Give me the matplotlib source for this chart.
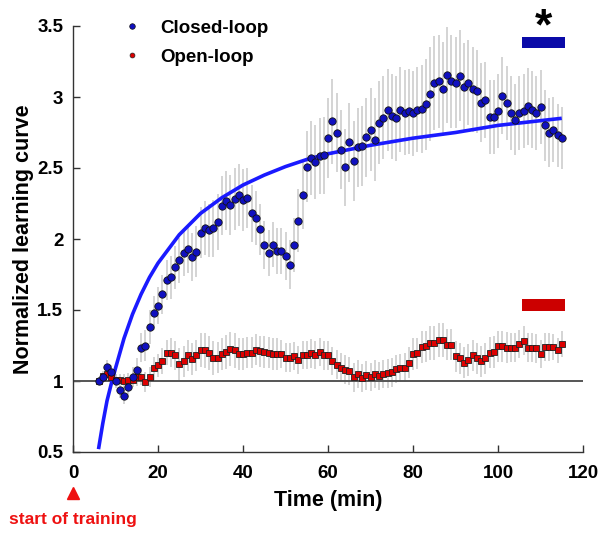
import matplotlib
matplotlib.use('Agg')
import matplotlib.pyplot as plt
from matplotlib.ticker import FuncFormatter
from matplotlib.lines import Line2D

plt.rcParams['font.family'] = ['Liberation Sans', 'DejaVu Sans']
plt.rcParams['font.weight'] = 'bold'

# ---------------- data ----------------
time = list(range(6, 116))

closed = [1.00, 1.03, 1.10, 1.065, 1.00, 0.94, 0.895, 0.96, 1.03, 1.08,
          1.235, 1.25, 1.38, 1.48, 1.53, 1.61, 1.71, 1.73, 1.80, 1.85,
          1.90, 1.93, 1.875, 1.91, 2.045, 2.08, 2.06, 2.075, 2.12, 2.235,
          2.27, 2.24, 2.28, 2.31, 2.275, 2.29, 2.18, 2.15, 2.07, 1.96,
          1.90, 1.96, 1.915, 1.915, 1.88, 1.82, 1.96, 2.13, 2.31, 2.51,
          2.57, 2.54, 2.585, 2.59, 2.71, 2.83, 2.75, 2.63, 2.505, 2.68,
          2.55, 2.645, 2.655, 2.715, 2.77, 2.70, 2.82, 2.855, 2.91, 2.865,
          2.85, 2.91, 2.89, 2.90, 2.885, 2.91, 2.915, 2.95, 3.02, 3.10,
          3.11, 3.055, 3.155, 3.11, 3.10, 3.15, 3.07, 3.10, 3.055, 3.04,
          2.96, 2.98, 2.86, 2.86, 2.90, 3.01, 2.96, 2.89, 2.84, 2.89,
          2.90, 2.935, 2.91, 2.885, 2.93, 2.80, 2.75, 2.77, 2.73, 2.71]

closed_err = [0.03, 0.04, 0.05, 0.05, 0.05, 0.06, 0.06, 0.07, 0.07, 0.08,
              0.10, 0.11, 0.12, 0.12, 0.13, 0.14, 0.14, 0.15, 0.15, 0.16,
              0.16, 0.17, 0.17, 0.18, 0.18, 0.19, 0.19, 0.20, 0.20, 0.21,
              0.21, 0.21, 0.22, 0.22, 0.22, 0.21, 0.20, 0.19, 0.18, 0.17,
              0.16, 0.16, 0.16, 0.16, 0.17, 0.17, 0.19, 0.22, 0.24, 0.25,
              0.26, 0.26, 0.27, 0.27, 0.28, 0.30, 0.28, 0.28, 0.27, 0.28,
              0.28, 0.28, 0.28, 0.28, 0.29, 0.29, 0.29, 0.29, 0.29, 0.30,
              0.30, 0.30, 0.30, 0.30, 0.30, 0.30, 0.31, 0.32, 0.33, 0.33,
              0.33, 0.33, 0.34, 0.33, 0.32, 0.32, 0.31, 0.30, 0.30, 0.29,
              0.28, 0.27, 0.26, 0.26, 0.26, 0.27, 0.26, 0.26, 0.25, 0.26,
              0.26, 0.27, 0.27, 0.26, 0.26, 0.25, 0.24, 0.23, 0.22, 0.22]

open_loop = [1.00, 1.035, 1.05, 1.026, 1.007, 1.01, 1.00, 1.007, 1.01, 1.026,
             1.03, 0.99, 1.03, 1.09, 1.11, 1.14, 1.20, 1.20, 1.18, 1.12,
             1.14, 1.18, 1.155, 1.18, 1.22, 1.215, 1.195, 1.16, 1.165, 1.19,
             1.205, 1.225, 1.215, 1.19, 1.19, 1.20, 1.20, 1.22, 1.21, 1.205,
             1.20, 1.19, 1.19, 1.19, 1.165, 1.165, 1.175, 1.15, 1.185, 1.185,
             1.195, 1.185, 1.205, 1.18, 1.18, 1.14, 1.115, 1.095, 1.08, 1.07,
             1.026, 1.05, 1.02, 1.04, 1.03, 1.05, 1.035, 1.05, 1.054, 1.06,
             1.085, 1.09, 1.095, 1.13, 1.19, 1.195, 1.24, 1.245, 1.265, 1.27,
             1.29, 1.29, 1.255, 1.255, 1.175, 1.16, 1.13, 1.148, 1.18, 1.16,
             1.14, 1.16, 1.20, 1.205, 1.245, 1.245, 1.235, 1.235, 1.235, 1.26,
             1.285, 1.235, 1.235, 1.23, 1.19, 1.24, 1.24, 1.24, 1.215, 1.26]

open_err = [0.02, 0.03, 0.03, 0.04, 0.04, 0.04, 0.05, 0.05, 0.05, 0.06,
            0.06, 0.07, 0.07, 0.08, 0.08, 0.09, 0.09, 0.10, 0.10, 0.11,
            0.11, 0.11, 0.11, 0.11, 0.12, 0.12, 0.12, 0.12, 0.11, 0.11,
            0.12, 0.12, 0.12, 0.11, 0.11, 0.11, 0.11, 0.11, 0.11, 0.11,
            0.11, 0.11, 0.11, 0.10, 0.10, 0.10, 0.10, 0.10, 0.10, 0.10,
            0.10, 0.10, 0.10, 0.10, 0.10, 0.10, 0.10, 0.10, 0.10, 0.10,
            0.10, 0.10, 0.10, 0.10, 0.10, 0.10, 0.10, 0.10, 0.10, 0.10,
            0.10, 0.10, 0.10, 0.11, 0.11, 0.11, 0.11, 0.11, 0.12, 0.12,
            0.12, 0.12, 0.11, 0.11, 0.11, 0.11, 0.11, 0.11, 0.11, 0.11,
            0.11, 0.11, 0.11, 0.11, 0.11, 0.11, 0.11, 0.10, 0.10, 0.10,
            0.10, 0.10, 0.10, 0.10, 0.10, 0.10, 0.10, 0.09, 0.09, 0.09]

# fitted learning curve
fit_t = [6, 7, 8, 9, 10, 12, 14, 16, 18, 20, 25, 30, 35, 40, 45, 50, 55, 60, 70, 80, 90, 100, 115]
fit_v = [0.52, 0.70, 0.86, 0.98, 1.09, 1.30, 1.47, 1.61, 1.73, 1.83, 2.03, 2.18, 2.29, 2.38,
         2.45, 2.51, 2.56, 2.60, 2.66, 2.71, 2.75, 2.80, 2.85]

# significance bars
sig_span = [105.7, 115.7]
closed_bar_y = [3.343, 3.425]
open_bar_y = [1.493, 1.575]
star_pos = [110.7, 3.49]

xticks = [0, 20, 40, 60, 80, 100, 120]
yticks = [0.5, 1, 1.5, 2, 2.5, 3, 3.5]

# ---------------- figure ----------------
fig = plt.figure(figsize=(6.04, 5.35), dpi=100)
ax = fig.add_axes([73 / 604, 1 - 452 / 535, 510 / 604, 426 / 535])

ax.errorbar(time, closed, yerr=closed_err, fmt='none', ecolor='#cdcdcd',
            elinewidth=1.2, capsize=0, zorder=1)
ax.errorbar(time, open_loop, yerr=open_err, fmt='none', ecolor='#cdcdcd',
            elinewidth=1.2, capsize=0, zorder=1)
ax.axhline(1, color='#555555', lw=1.4, zorder=2)
ax.plot(fit_t, fit_v, color='#1a1aff', lw=2.6, zorder=3, solid_capstyle='butt')
ax.plot(time, open_loop, 's', ms=4, mfc='#dd0000', mec='#222222', mew=0.6, zorder=4)
ax.plot(time, closed, 'o', ms=5.3, mfc='#1010c0', mec='#111111', mew=0.6, zorder=5)

ax.fill_between(sig_span, closed_bar_y[0], closed_bar_y[1], color='#0a0aa8',
                lw=0, clip_on=False, zorder=6)
ax.fill_between(sig_span, open_bar_y[0], open_bar_y[1], color='#cc0000',
                lw=0, clip_on=False, zorder=6)
ax.text(star_pos[0], star_pos[1], '*', ha='center', va='center', fontsize=32,
        fontweight='bold', color='black', clip_on=False)

ax.set_xlim(0, 120)
ax.set_ylim(0.5, 3.5)
ax.set_xticks(xticks)
ax.set_yticks(yticks)
ax.yaxis.set_major_formatter(FuncFormatter(lambda v, p: '%g' % v))
ax.tick_params(direction='in', length=5, width=1, labelsize=13.5, color='#333333')
ax.tick_params(axis='x', pad=9)
ax.tick_params(axis='y', pad=7)
for s in ['top', 'right']:
    ax.spines[s].set_visible(False)
for s in ['left', 'bottom']:
    ax.spines[s].set_color('#333333')
    ax.spines[s].set_linewidth(1.0)

ax.set_xlabel('Time (min)', fontsize=15.5, fontweight='bold', labelpad=6)
ax.set_ylabel('Normalized learning curve', fontsize=15.5, fontweight='bold', labelpad=2)

handles = [Line2D([], [], ls='none', marker='o', ms=4, mfc='#1010c0', mec='#111111', mew=0.5),
           Line2D([], [], ls='none', marker='o', ms=3.5, mfc='#dd0000', mec='#222222', mew=0.5)]
ax.legend(handles, ['Closed-loop', 'Open-loop'], loc='upper left',
          bbox_to_anchor=(0.06, 1.055), frameon=False, handlelength=1.2,
          handletextpad=0.9, labelspacing=0.65, prop={'size': 13.5, 'weight': 'bold'})

trans = ax.get_xaxis_transform()
ax.plot([0], [-0.097], '^', ms=8, color='#ee1111', transform=trans, clip_on=False)
ax.text(0, -0.158, 'start of training', transform=trans, ha='center', va='center',
        fontsize=12.5, fontweight='bold', color='#ee1111', clip_on=False)

fig.savefig('out.png', dpi=100)
